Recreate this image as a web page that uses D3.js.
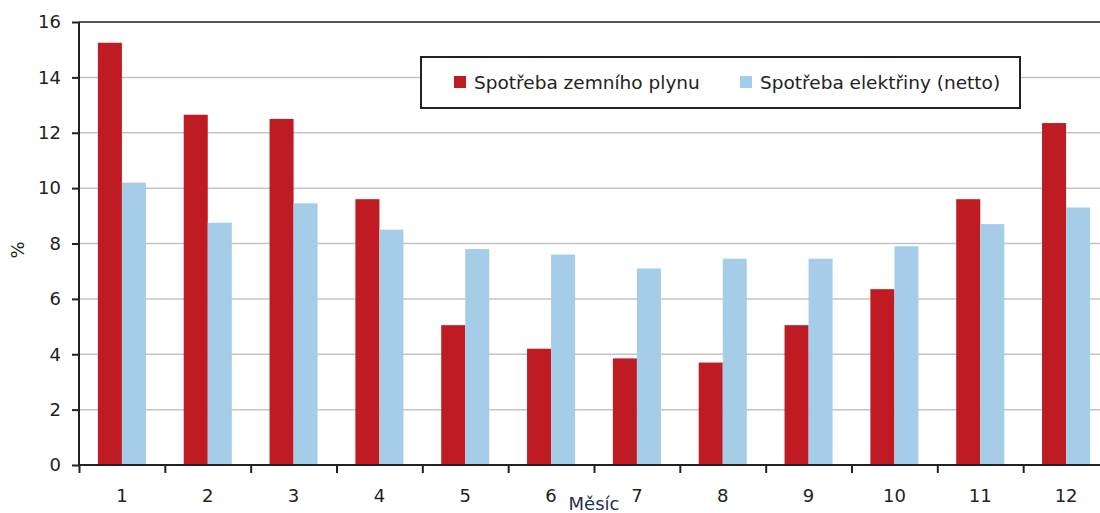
<!DOCTYPE html>
<html>
<head>
<meta charset="utf-8">
<script src="https://cdn.jsdelivr.net/npm/d3@7"></script>
<style>
  body { margin: 0; background: #fff; }
  text { font-family: "DejaVu Sans", Verdana, sans-serif; fill: #222; }
</style>
</head>
<body>
<svg width="1100" height="513"></svg>
<script>
var months = ["1", "2", "3", "4", "5", "6", "7", "8", "9", "10", "11", "12"];
var gasValues = [15.25, 12.65, 12.5, 9.6, 5.05, 4.2, 3.85, 3.7, 5.05, 6.35, 9.6, 12.35];
var elecValues = [10.2, 8.75, 9.45, 8.5, 7.8, 7.6, 7.1, 7.45, 7.45, 7.9, 8.7, 9.3];
var yTicks = [0, 2, 4, 6, 8, 10, 12, 14, 16];
var seriesNames = ["Spotřeba zemního plynu", "Spotřeba elektřiny (netto)"];
var seriesColors = ["#BE1B22", "#A6CDE7"];

var plotLeft = 79, plotRight = 1109, plotTop = 22, plotBottom = 465;
var svg = d3.select("svg");

var x = d3.scaleBand().domain(months).range([plotLeft, plotRight]).paddingInner(0.44).paddingOuter(0.22);
var xSub = d3.scaleBand().domain([0, 1]).range([0, x.bandwidth()]);
var xEdge = d3.scaleLinear().domain([0, 12]).range([plotLeft, plotRight]);
var y = d3.scaleLinear().domain([0, 16]).range([plotBottom, plotTop]);

// gridlines
svg.append("g").selectAll("line")
    .data(yTicks.filter(function (d) { return d > 0; }))
    .enter().append("line")
    .attr("x1", plotLeft).attr("x2", 1100)
    .attr("y1", function (d) { return y(d); })
    .attr("y2", function (d) { return y(d); })
    .style("stroke", function (d) { return d === 16 ? "#555" : "#c4c4c4"; })
    .style("stroke-width", function (d) { return d === 16 ? 2 : 1.5; });

// bars
var data = months.map(function (m, i) { return { m: m, v: [gasValues[i], elecValues[i]] }; });
var groups = svg.append("g").selectAll("g").data(data).enter().append("g")
    .attr("transform", function (d) { return "translate(" + x(d.m) + ",0)"; });
groups.selectAll("rect")
    .data(function (d) { return d.v; })
    .enter().append("rect")
    .attr("x", function (d, i) { return xSub(i); })
    .attr("width", xSub.bandwidth())
    .attr("y", function (d) { return y(d); })
    .attr("height", function (d) { return plotBottom - y(d); })
    .style("fill", function (d, i) { return seriesColors[i]; });

// y axis
var yAxis = svg.append("g").attr("transform", "translate(" + plotLeft + ",0)")
    .call(d3.axisLeft(y).tickValues(yTicks).tickSize(7).tickPadding(11).tickFormat(d3.format("d")));
yAxis.select(".domain").attr("d", "M0," + plotTop + "V" + plotBottom).style("stroke", "#222").style("stroke-width", 2);
yAxis.selectAll(".tick line").style("stroke", "#222").style("stroke-width", 2);
yAxis.selectAll("text").style("font-size", "18px").style("fill", "#222").attr("font-family", null);

// x axis
var xAxis = svg.append("g").attr("transform", "translate(0," + plotBottom + ")")
    .call(d3.axisBottom(xEdge).tickValues(d3.range(0, 12)).tickSize(8).tickFormat(""));
xAxis.select(".domain").attr("d", "M" + plotLeft + ",0H1100").style("stroke", "#222").style("stroke-width", 2);
xAxis.selectAll(".tick line").style("stroke", "#222").style("stroke-width", 2);

svg.append("g").selectAll("text").data(months).enter().append("text")
    .attr("x", function (d) { return x(d) + x.bandwidth() / 2; })
    .attr("y", 502)
    .attr("text-anchor", "middle")
    .style("font-size", "18px")
    .text(function (d) { return d; });

// axis titles
svg.append("text").attr("x", 594).attr("y", 510).attr("text-anchor", "middle")
    .style("font-size", "18px").style("fill", "#1f2f55").text("Měsíc");
svg.append("text").attr("transform", "translate(24,250) rotate(-90)").attr("text-anchor", "middle")
    .style("font-size", "18px").text("%");

// legend
var legend = svg.append("g");
legend.append("rect").attr("x", 421).attr("y", 57).attr("width", 599).attr("height", 51)
    .style("fill", "#fff").style("stroke", "#222").style("stroke-width", 2);
var legendX = [454, 740];
seriesNames.forEach(function (name, i) {
    legend.append("rect").attr("x", legendX[i]).attr("y", 76).attr("width", 12).attr("height", 12)
        .style("fill", seriesColors[i]);
    legend.append("text").attr("x", legendX[i] + 20).attr("y", 89)
        .style("font-size", "18.5px").text(name);
});
</script>
</body>
</html>
